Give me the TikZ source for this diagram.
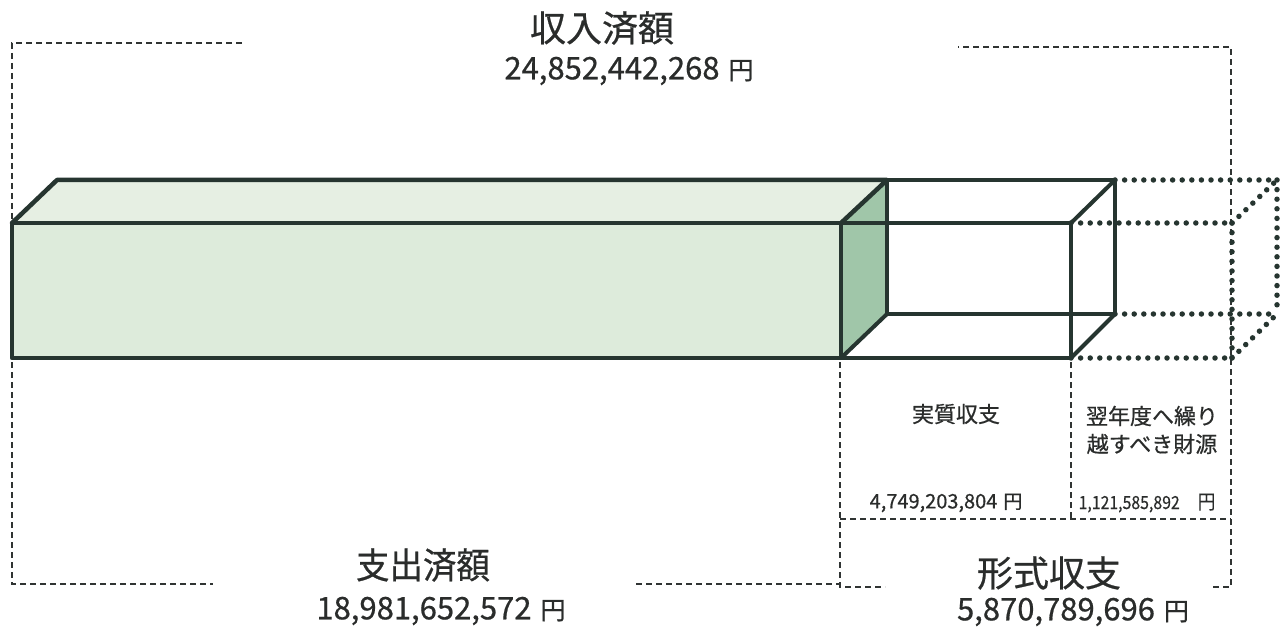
\documentclass[tikz,border=0pt]{standalone}
\usepackage{fontspec}
\setmainfont{Noto Sans CJK JP}[FakeBold=0.6]
\newfontfamily\condfont{Noto Sans CJK JP}[FakeStretch=0.93,FakeBold=0.6]
\newfontfamily\narrowfont{Noto Sans CJK JP}[FakeStretch=0.88,FakeBold=0.5]
\begin{document}
\begin{tikzpicture}[x=1pt,y=-1pt,
  boxline/.style={draw=lineclr,line width=4.5pt,line join=round,line cap=round},
  wireline/.style={draw=lineclr,line width=4pt,line cap=round},
  dotline/.style={draw=lineclr,line width=5.5pt,line cap=round,dash pattern=on 0pt off 9.6pt},
  bracket/.style={draw=dashclr,line width=2pt,dash pattern=on 6pt off 4pt},
  lbl/.style={text=txtclr,inner sep=0pt}]
\definecolor{lineclr}{HTML}{263530}
\definecolor{dashclr}{HTML}{303433}
\definecolor{txtclr}{HTML}{2A2C2B}
\definecolor{frontclr}{HTML}{DDEBDB}
\definecolor{topclr}{HTML}{E6EFE3}
\definecolor{sideclr}{HTML}{A0C6A9}
\useasboundingbox (0,0) rectangle (1287,628);
% coordinates
\coordinate (gFL) at (12,223);
\coordinate (gFR) at (841,223);
\coordinate (gBR) at (841,358);
\coordinate (gBL) at (12,358);
\coordinate (gTL) at (57,180);
\coordinate (gTR) at (887,180);
\coordinate (gTRb) at (887,314);
\coordinate (wFT) at (1071,223);
\coordinate (wFB) at (1071,358);
\coordinate (wBT) at (1115,180);
\coordinate (wBB) at (1115,314);
\coordinate (dFT) at (1232,223);
\coordinate (dFB) at (1232,358);
\coordinate (dBT) at (1277,180);
\coordinate (dBB) at (1277,314);
% brackets
\coordinate (b1) at (242,43);
\coordinate (b2) at (12,43);
\coordinate (b3) at (12,219);
\coordinate (b4) at (12,362);
\coordinate (b5) at (12,584);
\coordinate (b6) at (213,584);
\coordinate (b7) at (636,584);
\coordinate (b8) at (840,584);
\coordinate (b9) at (840,362);
\coordinate (b10) at (840,587);
\coordinate (b11) at (885,587);
\coordinate (b12) at (1213,587);
\coordinate (b13) at (1231,587);
\coordinate (b14) at (1231,47);
\coordinate (b15) at (958,47);
\coordinate (m1) at (840,519);
\coordinate (m2) at (1231,519);
\coordinate (m3) at (1071,362);
\coordinate (m4) at (1071,519);
\draw[bracket] (b1) -- (b2) -- (b3);
\draw[bracket] (b4) -- (b5) -- (b6);
\draw[bracket] (b7) -- (b8);
\draw[bracket] (b9) -- (b10) -- (b11);
\draw[bracket] (b12) -- (b13) -- (b14) -- (b15);
\draw[bracket] (m1) -- (m2);
\draw[bracket] (m3) -- (m4);
% green box faces
\fill[frontclr] (gFL) -- (gFR) -- (gBR) -- (gBL) -- cycle;
\fill[topclr] (gFL) -- (gTL) -- (gTR) -- (gFR) -- cycle;
\fill[sideclr] (gFR) -- (gTR) -- (gTRb) -- (gBR) -- cycle;
% dotted box
\draw[dotline] (wBT) -- (dBT);
\draw[dotline] (wFT) -- (dFT);
\draw[dotline] (wBB) -- (dBB);
\draw[dotline] (wFB) -- (dFB);
\draw[dotline] (dFT) -- (dFB);
\draw[dotline] (dBT) -- (dBB);
\draw[dotline] (dFT) -- (dBT);
\draw[dotline] (dFB) -- (dBB);
% wire box
\draw[wireline] (gTR) -- (wBT);
\draw[wireline] (gFR) -- (wFT);
\draw[wireline] (gBR) -- (wFB);
\draw[wireline] (gTRb) -- (wBB);
\draw[wireline] (wFT) -- (wFB);
\draw[wireline] (wBT) -- (wBB);
\draw[wireline] (wFT) -- (wBT);
\draw[wireline] (wFB) -- (wBB);
\draw[wireline] (gTR) -- (gTRb);
\draw[wireline] (gBR) -- (gTRb);
% green box outline
\draw[boxline] (gFL) -- (gFR) -- (gBR) -- (gBL) -- cycle;
\draw[boxline] (gFL) -- (gTL) -- (gTR) -- (gFR);
% texts
\node[lbl,font=\fontsize{36}{38}\selectfont] (t1) at (602,28) {収入済額};
\node[lbl,font=\fontsize{31}{34}\selectfont] (t2) at (629,71) {24,852,442,268\hspace{9pt}\fontsize{25}{28}\selectfont 円};
\node[lbl,font=\fontsize{36}{38}\selectfont\condfont] (t3) at (423,565) {支出済額};
\node[lbl,font=\fontsize{31}{34}\selectfont] (t4) at (441,611) {18,981,652,572\hspace{9pt}\fontsize{25}{28}\selectfont 円};
\node[lbl,font=\fontsize{36}{38}\selectfont] (t5) at (1049,573) {形式収支};
\node[lbl,font=\fontsize{31}{34}\selectfont] (t6) at (1073,612) {5,870,789,696\hspace{9pt}\fontsize{25}{28}\selectfont 円};
\node[lbl,font=\fontsize{22}{24}\selectfont] (t7) at (956,414) {実質収支};
\node[lbl,font=\fontsize{22}{24}\selectfont] (t8) at (1152,416) {翌年度へ繰り};
\node[lbl,font=\fontsize{22}{24}\selectfont] (t9) at (1152,444) {越すべき財源};
\node[lbl,font=\fontsize{20}{22}\selectfont] (t10) at (946,503) {4,749,203,804\hspace{6pt}\fontsize{19}{21}\selectfont 円};
\node[lbl,font=\fontsize{18}{20}\selectfont\narrowfont] (t11) at (1147,503) {1,121,585,892\hspace{18pt}\fontsize{20}{22}\selectfont 円};
\end{tikzpicture}
\end{document}
